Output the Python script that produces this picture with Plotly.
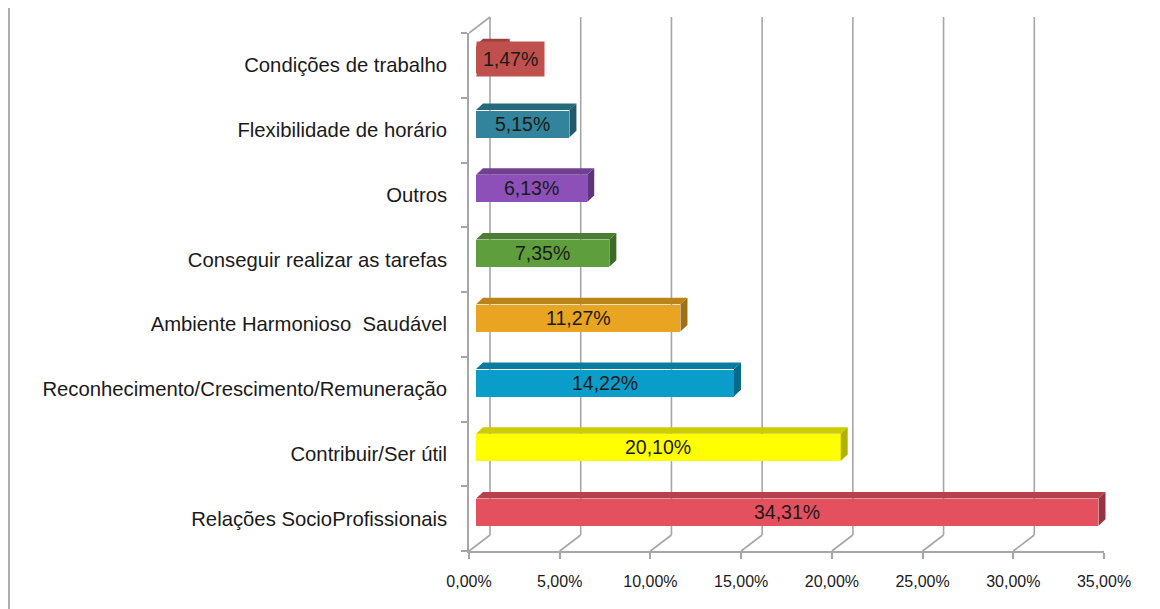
import plotly.graph_objects as go

# ---- data (bottom to top) ----
categories = [
    "Relações SocioProfissionais",
    "Contribuir/Ser útil",
    "Reconhecimento/Crescimento/Remuneração",
    "Ambiente Harmonioso \u00a0Saudável",
    "Conseguir realizar as tarefas",
    "Outros",
    "Flexibilidade de horário",
    "Condições de trabalho",
]
values = [34.31, 20.10, 14.22, 11.27, 7.35, 6.13, 5.15, 1.47]
value_labels = ["34,31%", "20,10%", "14,22%", "11,27%", "7,35%", "6,13%", "5,15%", "1,47%"]
tick_values = [0, 5, 10, 15, 20, 25, 30, 35]
tick_labels = ["0,00%", "5,00%", "10,00%", "15,00%", "20,00%", "25,00%", "30,00%", "35,00%"]

# ---- styles ----
front_colors = ["#E5505F", "#FFFF00", "#0A9DC9", "#E9A521", "#5E9E3C", "#8C50B8", "#31849B", "#C0504D"]
top_colors = ["#B8404C", "#CCCC00", "#087DA0", "#BA841A", "#4B7E30", "#704093", "#276A7C", "#9A403E"]
side_colors = ["#9A3340", "#B0B000", "#066A89", "#A07016", "#3F6B28", "#5E357C", "#215968", "#833634"]

PAGE_OFF = 8  # default body margin of the html page
W, H = 1160 - PAGE_OFF, 609 - PAGE_OFF
FRONT_L, FRONT_R = 469 - PAGE_OFF, 1104 - PAGE_OFF
FRONT_TOP, FRONT_BOT = 33 - PAGE_OFF, 551 - PAGE_OFF
DEPTH_X, DEPTH_Y = 21, 16
BAR_DX, BAR_DY = 7, 6.5
XMAX = 35
GRID = "#A6A6A6"
FONT = "Liberation Sans"

m_l = FRONT_L
m_r = W - (FRONT_R + DEPTH_X)
m_t = FRONT_TOP - DEPTH_Y
m_b = H - FRONT_BOT
pw = W - m_l - m_r
ph = H - m_t - m_b
front_w = FRONT_R - FRONT_L
front_h = FRONT_BOT - FRONT_TOP
n = len(categories)
px_per_x = front_w / XMAX
px_per_cat = front_h / n
bar_half = 0.21
dx_data = BAR_DX / px_per_x
dy_data = BAR_DY / px_per_cat

fig = go.Figure()
# invisible trace establishing the front category axis
fig.add_trace(go.Scatter(x=[0] * n, y=categories, mode="markers",
                         marker=dict(opacity=0), hoverinfo="skip", showlegend=False))
# bars (front faces)
idx = list(range(n))
fig.add_trace(go.Bar(x=values, y=idx, orientation="h", xaxis="x2", yaxis="y2",
                     width=2 * bar_half, marker=dict(color=front_colors, line=dict(width=0)),
                     hoverinfo="skip", showlegend=False))

shapes = []
# back-wall gridlines and floor diagonals
for v in tick_values:
    shapes.append(dict(type="line", xref="x", yref="y domain", xsizemode="pixel", ysizemode="pixel",
                       xanchor=v, yanchor=0, x0=DEPTH_X, x1=DEPTH_X, y0=DEPTH_Y, y1=front_h + DEPTH_Y,
                       line=dict(color=GRID, width=1.6), layer="below"))
    shapes.append(dict(type="line", xref="x", yref="y domain", xsizemode="pixel", ysizemode="pixel",
                       xanchor=v, yanchor=0, x0=0, x1=DEPTH_X, y0=0, y1=DEPTH_Y,
                       line=dict(color=GRID, width=1.6), layer="below"))
# top diagonal of the left wall
shapes.append(dict(type="line", xref="x", yref="y domain", xsizemode="pixel", ysizemode="pixel",
                   xanchor=0, yanchor=1, x0=0, x1=DEPTH_X, y0=0, y1=DEPTH_Y,
                   line=dict(color=GRID, width=1.6), layer="below"))
# chart border on the left
shapes.append(dict(type="line", xref="paper", yref="paper", x0=(1 - m_l) / pw, x1=(1 - m_l) / pw,
                   y0=-2, y1=2, line=dict(color="#9A9A9A", width=1.6)))

# 3D faces of the bars
for i, v in enumerate(values):
    t = i + bar_half
    b = i - bar_half
    shapes.append(dict(type="path", xref="x2", yref="y2",
                       path=f"M 0,{t} L {v},{t} L {v + dx_data},{t + dy_data} L {dx_data},{t + dy_data} Z",
                       fillcolor=top_colors[i], line=dict(width=0)))
    shapes.append(dict(type="path", xref="x2", yref="y2",
                       path=f"M {v},{b} L {v},{t} L {v + dx_data},{t + dy_data} L {v + dx_data},{b + dy_data} Z",
                       fillcolor=side_colors[i], line=dict(width=0)))

annotations = []
for i, (v, lab) in enumerate(zip(values, value_labels)):
    narrow = v * px_per_x < 70
    annotations.append(dict(xref="x2", yref="y2", x=0 if narrow else v / 2, y=i,
                            xanchor="left" if narrow else "center", yanchor="middle",
                            text=lab, showarrow=False,
                            bgcolor=front_colors[i] if narrow else "rgba(0,0,0,0)",
                            borderpad=6 if narrow else 0,
                            font=dict(family=FONT, size=19.5, color="#1A1A1A")))

fig.update_layout(
    width=W, height=H,
    margin=dict(l=m_l, r=m_r, t=m_t, b=m_b, pad=0, autoexpand=False),
    paper_bgcolor="white", plot_bgcolor="rgba(0,0,0,0)",
    shapes=shapes, annotations=annotations,
    xaxis=dict(domain=[0, front_w / pw], range=[0, XMAX], anchor="y",
               tickvals=tick_values, ticktext=tick_labels, ticks="outside", ticklen=6,
               tickcolor=GRID, tickwidth=1.6, showline=True, linecolor=GRID, linewidth=1.6,
               showgrid=False, zeroline=False, ticklabelstandoff=9,
               tickfont=dict(family=FONT, size=16, color="#1A1A1A")),
    yaxis=dict(domain=[0, front_h / ph], range=[-0.5, n - 0.5], anchor="x", type="category",
               tickson="boundaries", ticks="outside", ticklen=6, tickcolor=GRID, tickwidth=1.6,
               showline=True, linecolor=GRID, linewidth=1.6, showgrid=False, zeroline=False,
               ticklabelstandoff=16,
               tickfont=dict(family=FONT, size=20.3, color="#1A1A1A")),
    xaxis2=dict(domain=[BAR_DX / pw, (front_w + BAR_DX) / pw], range=[0, XMAX], anchor="y2",
                visible=False),
    yaxis2=dict(domain=[BAR_DY / ph, (front_h + BAR_DY) / ph], range=[-0.5, n - 0.5], anchor="x2",
                visible=False),
    bargap=0,
)

fig.write_html("out.html")
